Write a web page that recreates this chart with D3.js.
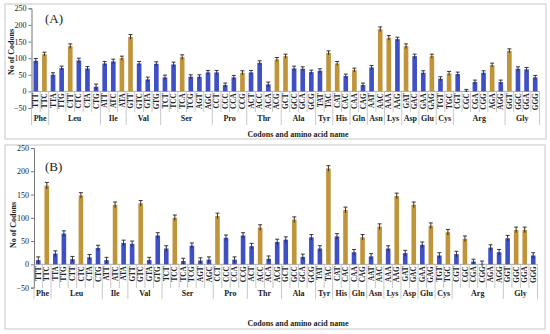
<!DOCTYPE html>
<html><head><meta charset="utf-8">
<script src="https://cdn.jsdelivr.net/npm/d3@7"></script>
<style>body{margin:0;background:#fff}svg{display:block}</style>
</head><body><svg id="c" width="550" height="334"></svg>
<script>
const codons = ["TTT","TTC","TTA","TTG","CTT","CTC","CTA","CTG","ATT","ATC","ATA","GTT","GTC","GTA","GTG",
  "TCT","TCC","TCA","TCG","AGT","AGC","CCT","CCC","CCA","CCG","ACT","ACC","ACA","ACG",
  "GCT","GCC","GCA","GCG","TAT","TAC","CAT","CAC","CAA","CAG","AAT","AAC","AAA","AAG",
  "GAT","GAC","GAA","GAG","TGT","TGC","CGT","CGC","CGA","CGG","AGA","AGG","GGT","GGC","GGA","GGG"];
const aminoAcids = ["Phe","Leu","Ile","Val","Ser","Pro","Thr","Ala","Tyr","His","Gln","Asn","Lys","Asp","Glu","Cys","Arg","Gly"];
const aaCodonCounts = [2,6,3,4,6,4,4,4,2,2,2,2,2,2,2,2,6,4];

const valuesA = [92,112,50,70,136,93,69,14,84,90,100,164,84,36,83,
  42,81,103,44,44,57,57,19,42,56,57,86,21,96,
  106,69,68,58,62,116,84,46,64,19,72,187,161,157,
  136,106,56,106,38,54,52,2,28,56,79,28,122,68,66,42];
const errorsA = [7,6,6,6,7,7,6,8,6,7,6,7,6,7,6,
  7,7,7,6,6,6,6,6,6,6,6,6,7,6,
  6,7,6,6,6,6,6,6,6,6,6,7,7,6,
  7,6,6,6,6,6,6,4,6,6,6,6,6,6,6,6];
const preferredA = ["TTC","CTT","ATA","GTT","TCA","CCG","ACG","GCT","TAC","CAT","CAA","AAC","AAA","GAT","GAG","TGC","AGA","GGT"];

const valuesB = [9,169,23,66,11,148,15,35,9,128,46,44,131,9,62,
  34,100,7,40,8,10,104,57,10,62,39,79,12,48,
  53,96,16,58,34,206,60,117,26,58,17,81,34,147,
  24,128,42,83,19,69,22,55,6,1,36,26,56,74,74,19];
const errorsB = [7,7,6,6,6,6,6,6,6,6,6,6,6,6,6,
  6,6,6,6,6,6,6,6,6,6,6,6,6,6,
  6,6,6,6,6,6,6,6,6,6,6,6,6,6,
  6,6,6,6,6,6,6,6,5,6,6,6,6,6,6,6];
const preferredB = ["TTC","CTC","ATC","GTC","TCC","CCT","ACC","GCC","TAC","CAC","CAG","AAC","AAG","GAC","GAG","TGC","CGC","GGC","GGA"];

const yTicks = [-50,0,50,100,150,200,250];
const panelLabels = ["(A)","(B)"];
const yTitle = "No of Codons";
const xTitle = "Codons and amino acid name";

const BLUE = "#3f4fc4", GOLD = "#c0943a", SERIF = "'Liberation Serif','Times New Roman',serif";
const svg = d3.select("#c");

function drawPanel(p) {
  const g = svg.append("g");
  g.append("rect").attr("x", p.frame[0]).attr("y", p.frame[1]).attr("width", p.frame[2]).attr("height", p.frame[3])
    .attr("fill", "#fff").attr("stroke", "#c8c8c8").attr("stroke-width", 1);

  const x = d3.scaleBand().domain(codons).range(p.xr).paddingInner(0.46).paddingOuter(0.23);
  const y = d3.scaleLinear().domain([-50, 250]).range(p.yr);
  const y0 = y(0);

  // y axis
  const ax = g.append("g").attr("transform", `translate(${p.xr[0]},0)`)
    .call(d3.axisLeft(y).tickValues(yTicks).tickSize(3).tickPadding(2));
  ax.select(".domain").attr("stroke", "#777");
  ax.selectAll(".tick line").attr("stroke", "#777");
  ax.selectAll("text").attr("font-family", SERIF).attr("font-size", 8).attr("fill", "#222");

  // zero line
  g.append("line").attr("x1", p.xr[0]).attr("x2", p.xr[1]).attr("y1", y0).attr("y2", y0)
    .attr("stroke", "#999").attr("stroke-width", 0.8);

  // bars
  const pref = new Set(p.pref);
  g.selectAll(".bar").data(codons).join("rect")
    .attr("x", d => x(d)).attr("width", x.bandwidth())
    .attr("y", (d, i) => y(Math.max(0, p.vals[i])))
    .attr("height", (d, i) => Math.abs(y(p.vals[i]) - y0))
    .attr("fill", d => pref.has(d) ? GOLD : BLUE);

  // error bars
  const eb = g.selectAll(".eb").data(codons).join("g");
  eb.append("line").attr("x1", d => x(d) + x.bandwidth() / 2).attr("x2", d => x(d) + x.bandwidth() / 2)
    .attr("y1", (d, i) => y(p.vals[i] - p.errs[i])).attr("y2", (d, i) => y(p.vals[i] + p.errs[i]))
    .attr("stroke", "#222").attr("stroke-width", 0.9);
  eb.append("line").attr("x1", d => x(d) + x.bandwidth() / 2 - 2).attr("x2", d => x(d) + x.bandwidth() / 2 + 2)
    .attr("y1", (d, i) => y(p.vals[i] + p.errs[i])).attr("y2", (d, i) => y(p.vals[i] + p.errs[i]))
    .attr("stroke", "#222").attr("stroke-width", 0.9);

  // codon labels
  g.selectAll(".cl").data(codons).join("text")
    .attr("transform", d => `translate(${x(d) + x.bandwidth() / 2 + 2.6},${y0 + 2}) rotate(-90)`)
    .attr("text-anchor", "end").attr("font-family", SERIF).attr("font-size", 7.2).attr("font-weight", "bold")
    .attr("fill", "#222").text(d => d);

  // separators
  const step = x.step();
  const start = p.xr[0];
  const groupBounds = new Set();
  let acc = 0;
  aaCodonCounts.forEach(c => { acc += c; groupBounds.add(acc); });
  for (let k = 0; k <= codons.length; k++) {
    const xx = start + step * k;
    const isGroup = k === 0 || groupBounds.has(k);
    g.append("line").attr("x1", xx).attr("x2", xx).attr("y1", y0)
      .attr("y2", isGroup ? p.groupLineEnd : p.codonLineEnd)
      .attr("stroke", "#bbb").attr("stroke-width", 0.8);
  }
  // group labels
  let idx = 0;
  aminoAcids.forEach((aa, j) => {
    const cx = start + step * (idx + aaCodonCounts[j] / 2);
    g.append("text").attr("x", cx).attr("y", p.groupY).attr("text-anchor", "middle")
      .attr("font-family", SERIF).attr("font-size", 8).attr("font-weight", "bold").attr("fill", "#222").text(aa);
    idx += aaCodonCounts[j];
  });

  // titles
  g.append("text").attr("x", p.xTitleX).attr("y", p.xTitleY).attr("text-anchor", "middle")
    .attr("font-family", SERIF).attr("font-size", 8).attr("font-weight", "bold").attr("fill", "#222").text(xTitle);
  g.append("text").attr("transform", `translate(${p.yTitleX},${p.yTitleY}) rotate(-90)`).attr("text-anchor", "middle")
    .attr("font-family", SERIF).attr("font-size", 8).attr("font-weight", "bold").attr("fill", "#222").text(yTitle);
  g.append("text").attr("x", p.labelX).attr("y", p.labelY)
    .attr("font-family", SERIF).attr("font-size", 13).attr("fill", "#222").text(p.label);
}

drawPanel({ frame: [5, 4, 541, 135], xr: [31.5, 539.5], yr: [108, 8.3], vals: valuesA, errs: errorsA, pref: preferredA,
  codonLineEnd: 112, groupLineEnd: 125, groupY: 121, xTitleX: 298, xTitleY: 136.5, yTitleX: 14, yTitleY: 52,
  label: panelLabels[0], labelX: 45, labelY: 23 });
drawPanel({ frame: [5, 145, 540, 184], xr: [34, 537.5], yr: [287.6, 148], vals: valuesB, errs: errorsB, pref: preferredB,
  codonLineEnd: 288, groupLineEnd: 299, groupY: 295.5, xTitleX: 298, xTitleY: 325.5, yTitleX: 16, yTitleY: 225,
  label: panelLabels[1], labelX: 45, labelY: 171 });
</script>
</body></html>
